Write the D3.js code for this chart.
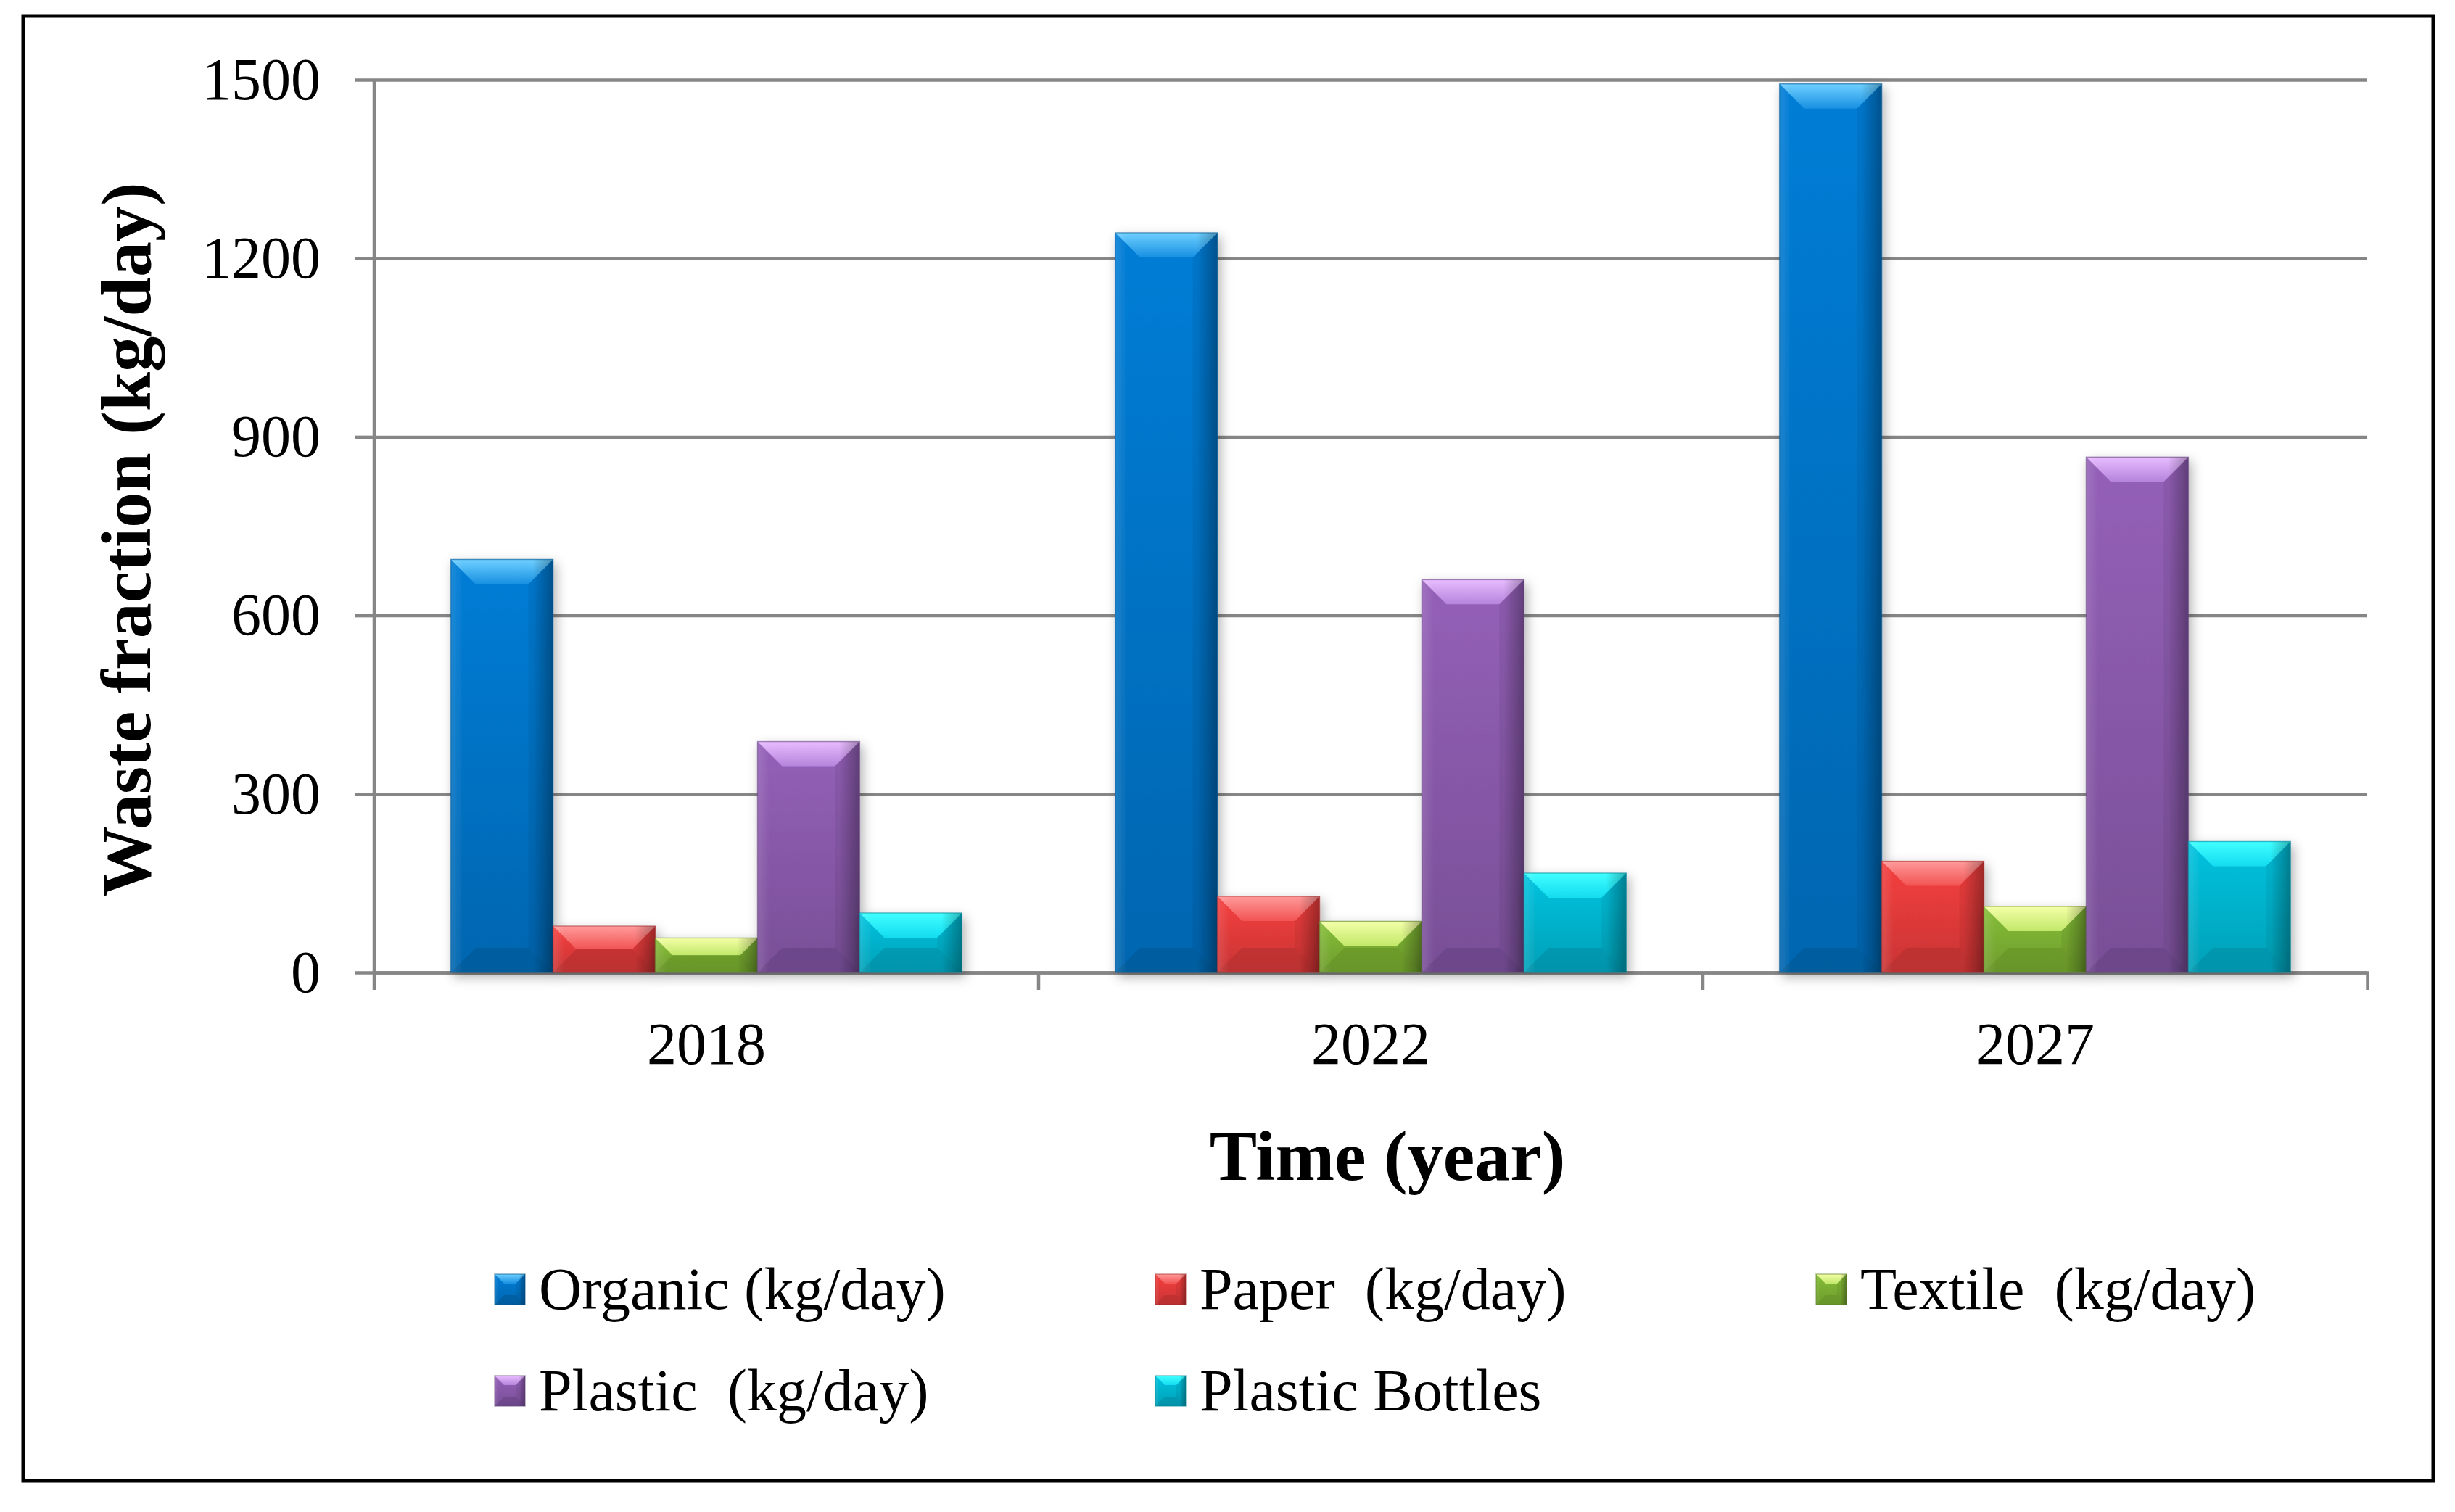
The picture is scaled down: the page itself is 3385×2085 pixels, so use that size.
<!DOCTYPE html>
<html>
<head>
<meta charset="utf-8">
<title>Waste fraction by year</title>
<script src="https://cdn.jsdelivr.net/npm/d3@7"></script>
<style>
body { margin: 0; background: #ffffff; }
svg text { font-family: "Liberation Serif", "Times New Roman", serif; fill: #000; }
</style>
</head>
<body>
<script>

// data
var years = ["2018", "2022", "2027"];
var seriesNames = ["Organic (kg/day)", "Paper  (kg/day)", "Textile  (kg/day)", "Plastic  (kg/day)", "Plastic Bottles"];
var organic = [694, 1243, 1493];
var paper = [78, 128, 187];
var textile = [58, 86, 111];
var plastic = [388, 660, 866];
var bottles = [100, 167, 220];
var yTicks = [0, 300, 600, 900, 1200, 1500];

var seriesValues = [organic, paper, textile, plastic, bottles];

// face colour, light top bevel (two tones), dark bottom bevel
var colors = [
	{face: "#0072c4", top1: "#6fd0ff", top2: "#1890e2", dark: "#00558f"},
	{face: "#e03a3a", top1: "#ff9a9a", top2: "#f25454", dark: "#b02e2e"},
	{face: "#7aae32", top1: "#f4ffa8", top2: "#c2e86a", dark: "#648f26"},
	{face: "#8758a8", top1: "#e8bcff", top2: "#b584dc", dark: "#63407f"},
	{face: "#00b2cc", top1: "#40ffff", top2: "#14dcf0", dark: "#008aa2"}
];

var W = 3385, H = 2085;
var margin = {left: 516, right: 3385 - 3264, top: 110, bottom: 2085 - 1341};
var width = W - margin.left - margin.right,
	height = H - margin.top - margin.bottom;

var svg = d3.select("body").append("svg")
	.attr("width", W)
	.attr("height", H);

svg.append("rect").attr("width", W).attr("height", H).attr("fill", "#fff");

// outer frame
svg.append("rect")
	.attr("x", 32).attr("y", 22)
	.attr("width", 3323).attr("height", 2020)
	.attr("fill", "none")
	.attr("stroke", "#000")
	.attr("stroke-width", 5);

var defs = svg.append("defs");

var shadow = defs.append("filter").attr("id", "shadow")
	.attr("x", "-40%").attr("y", "-40%").attr("width", "180%").attr("height", "180%");
shadow.append("feDropShadow")
	.attr("dx", 4).attr("dy", 6).attr("stdDeviation", 8)
	.attr("flood-color", "#000").attr("flood-opacity", 0.3);

colors.forEach(function(c, i) {
	var f = defs.append("linearGradient").attr("id", "face" + i)
		.attr("x1", 0).attr("y1", 0).attr("x2", 0).attr("y2", 1);
	f.append("stop").attr("offset", "0%").attr("stop-color", d3.color(c.face).brighter(0.25));
	f.append("stop").attr("offset", "100%").attr("stop-color", d3.color(c.face).darker(0.3));

	var t = defs.append("linearGradient").attr("id", "top" + i)
		.attr("x1", 0).attr("y1", 0).attr("x2", 0).attr("y2", 1);
	t.append("stop").attr("offset", "0%").attr("stop-color", c.top1);
	t.append("stop").attr("offset", "100%").attr("stop-color", c.top2);
});

var side = defs.append("linearGradient").attr("id", "side")
	.attr("x1", 0).attr("y1", 0).attr("x2", 1).attr("y2", 0);
side.append("stop").attr("offset", "0%").attr("stop-color", "#fff").attr("stop-opacity", 0.12);
side.append("stop").attr("offset", "12%").attr("stop-color", "#fff").attr("stop-opacity", 0);
side.append("stop").attr("offset", "80%").attr("stop-color", "#000").attr("stop-opacity", 0);
side.append("stop").attr("offset", "100%").attr("stop-color", "#000").attr("stop-opacity", 0.3);

// scales
var x0 = d3.scaleBand()
	.domain(years)
	.range([margin.left, margin.left + width])
	.paddingInner(0)
	.paddingOuter(0);

var x1 = d3.scaleBand()
	.domain(d3.range(seriesNames.length))
	.range([0, x0.bandwidth()])
	.paddingInner(0)
	.paddingOuter(0.75);

var y = d3.scaleLinear()
	.domain([0, 1500])
	.range([margin.top + height, margin.top]);

var gridColor = "#868686";

// gridlines
svg.append("g")
	.attr("transform", "translate(" + margin.left + ",0)")
	.call(d3.axisLeft(y).tickValues(yTicks).tickSize(-width).tickFormat(""))
	.call(function(g) { g.select(".domain").remove(); })
	.selectAll("line")
	.attr("stroke", gridColor)
	.attr("stroke-width", 4.5);

// y axis: outward ticks + labels
var yAxis = svg.append("g")
	.attr("transform", "translate(" + margin.left + ",0)")
	.attr("font-family", null).attr("font-size", null)
	.call(d3.axisLeft(y).tickValues(yTicks).tickFormat(d3.format("d"))
		.tickSize(26).tickPadding(48).tickSizeOuter(0));
yAxis.select(".domain").remove();
yAxis.selectAll("line").attr("stroke", gridColor).attr("stroke-width", 4.5);
yAxis.selectAll("text")
	.style("font-size", "82px")
	.attr("fill", "#000");

// vertical axis line
svg.append("line")
	.attr("x1", margin.left).attr("x2", margin.left)
	.attr("y1", y(1500)).attr("y2", y(0) + 24)
	.attr("stroke", gridColor).attr("stroke-width", 4.5);

// x axis: category labels, with ticks on the band boundaries
var xAxis = svg.append("g")
	.attr("transform", "translate(0," + y(0) + ")")
	.attr("font-family", null).attr("font-size", null)
	.call(d3.axisBottom(x0).tickSize(0).tickSizeOuter(24));
xAxis.select(".domain").attr("stroke", gridColor).attr("stroke-width", 4.5);
xAxis.selectAll("text")
	.attr("y", 126).attr("dy", null)
	.style("font-size", "82px")
	.attr("fill", "#000");

xAxis.selectAll(".boundary")
	.data(years.slice(1))
	.enter().append("line")
	.attr("class", "boundary")
	.attr("x1", function(d) { return x0(d); })
	.attr("x2", function(d) { return x0(d); })
	.attr("y1", 0).attr("y2", 24)
	.attr("stroke", gridColor).attr("stroke-width", 4.5);

// bevelled bar
function bevelBar(g, x, yTop, w, h, ci, bMax) {
	var b = Math.min(bMax, h / 2, w / 2);
	var c = colors[ci];
	g.append("rect")
		.attr("x", x).attr("y", yTop).attr("width", w).attr("height", h)
		.attr("fill", "url(#face" + ci + ")");
	// top bevel
	g.append("polygon")
		.attr("points", [[x, yTop], [x + w, yTop], [x + w - b, yTop + b], [x + b, yTop + b]].join(" "))
		.attr("fill", "url(#top" + ci + ")");
	// bottom bevel
	g.append("polygon")
		.attr("points", [[x, yTop + h], [x + w, yTop + h], [x + w - b, yTop + h - b], [x + b, yTop + h - b]].join(" "))
		.attr("fill", c.dark).attr("fill-opacity", 0.55);
	// right bevel a touch darker
	g.append("polygon")
		.attr("points", [[x + w, yTop], [x + w, yTop + h], [x + w - b, yTop + h - b], [x + w - b, yTop + b]].join(" "))
		.attr("fill", "#000").attr("fill-opacity", 0.06);
	g.append("rect")
		.attr("x", x).attr("y", yTop).attr("width", w).attr("height", h)
		.attr("fill", "url(#side)");
	g.append("rect")
		.attr("x", x).attr("y", yTop).attr("width", w).attr("height", h)
		.attr("fill", "none")
		.attr("stroke", d3.color(c.face).darker(0.9))
		.attr("stroke-opacity", 0.5)
		.attr("stroke-width", 1.5);
}

// bars
var groups = svg.selectAll(".year")
	.data(years)
	.enter().append("g")
	.attr("class", "year")
	.attr("transform", function(d) { return "translate(" + x0(d) + ",0)"; });

groups.each(function(yr, j) {
	var g = d3.select(this);
	seriesValues.forEach(function(vals, i) {
		var v = vals[j];
		var bar = g.append("g").attr("filter", "url(#shadow)");
		bevelBar(bar, x1(i), y(v), x1.bandwidth(), y(0) - y(v), i, 34);
	});
});

// axis titles
svg.append("text")
	.attr("x", 1913)
	.attr("y", 1627)
	.attr("text-anchor", "middle")
	.style("font-size", "98px")
	.style("font-weight", "bold")
	.text("Time (year)");

svg.append("g")
	.attr("transform", "translate(207,744)")
	.append("text")
	.attr("transform", "rotate(-90)")
	.attr("text-anchor", "middle")
	.style("font-size", "98px")
	.style("font-weight", "bold")
	.text("Waste fraction (kg/day)");

// legend
var legend = svg.selectAll(".legend")
	.data(seriesNames)
	.enter().append("g")
	.attr("class", "legend")
	.attr("transform", function(d, i) {
		return "translate(" + (682 + (i % 3) * 911) + "," + (1757 + Math.floor(i / 3) * 140) + ")";
	});

legend.each(function(d, i) {
	bevelBar(d3.select(this), 0, 0, 42, 42, i, 13);
});

legend.append("text")
	.attr("x", 61)
	.attr("y", 48)
	.style("font-size", "82px")
	.style("white-space", "pre")
	.text(function(d) { return d; });

</script>
</body>
</html>
